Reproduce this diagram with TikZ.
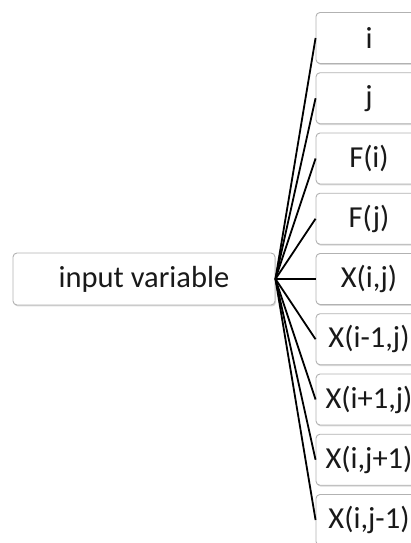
\documentclass[tikz,border=0pt]{standalone}
\usepackage{fontspec}
\setmainfont{Carlito}
\usetikzlibrary{shadows}
\begin{document}
\begin{tikzpicture}[x=1pt,y=1pt,
  vbox/.style={draw=gray!60, line width=0.9pt, rounded corners=4pt, fill=white,
    drop shadow={shadow xshift=1pt, shadow yshift=-1.5pt, opacity=0.3, fill=gray},
    minimum height=51pt, inner sep=0pt, text=black!90,
    font=\fontsize{30.5}{33}\selectfont},
  link/.style={line width=1.8pt, black}]
\useasboundingbox (0,0) rectangle (411,543);
\clip (0,0) rectangle (411,543);
\node[vbox, minimum width=262pt, minimum height=52pt] (in) at (144,264) {input variable};
\foreach \name/\txt [count=\k from 0] in {a/i, b/j, c/F(i), d/F(j), e/{X(i,j)}, f/{X(i-1,j)}, g/{X(i+1,j)}, h/{X(i,j+1)}, m/{X(i,j-1)}}{
  \node[vbox, minimum width=106pt] (\name) at (369,{543-38-60.25*\k}) {\txt};
}
\foreach \name in {a,b,c,d,e,f,g,h,m}{
  \draw[link] (in.east) -- (\name.west);
}
\end{tikzpicture}
\end{document}
